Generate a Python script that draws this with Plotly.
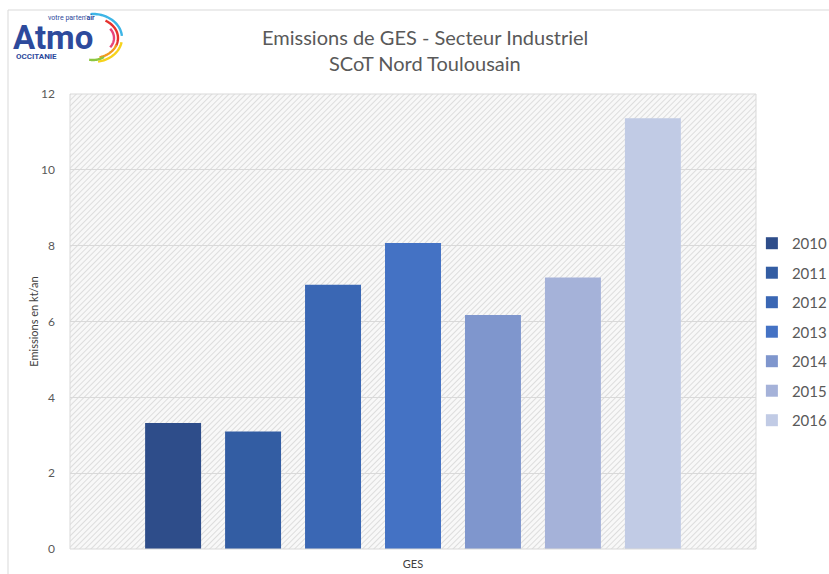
import base64
import numpy as np
import plotly.graph_objects as go

# Emissions de GES du secteur industriel (kt/an), une barre par année
categories = ["GES"]
years = ["2010", "2011", "2012", "2013", "2014", "2015", "2016"]
emissions = [3.32, 3.10, 6.97, 8.07, 6.17, 7.16, 11.36]
colors = ["#2E4D8A", "#335DA3", "#3A67B4", "#4472C4", "#7F96CD", "#A5B2D9", "#C1CBE5"]
y_ticks = [0, 2, 4, 6, 8, 10, 12]

W, H = 829, 574
M_L, M_R, M_T, M_B = 70, 73, 94, 25
PW, PH = W - M_L - M_R, H - M_T - M_B


def px(x, y):
    """Pixel position -> paper coordinates of the plot area."""
    return (x - M_L) / PW, (H - M_B - y) / PH


fig = go.Figure()
for yr, val, col in zip(years, emissions, colors):
    fig.add_trace(go.Bar(
        x=categories, y=[val], name=yr, legendgroup=yr,
        marker=dict(color=col, line=dict(width=0)),
        hoverinfo="name+y",
    ))

# diagonal hatch behind the plot area
hatch_svg = (
    f'<svg xmlns="http://www.w3.org/2000/svg" width="{PW}" height="{PH}" '
    f'viewBox="0 0 {PW} {PH}" preserveAspectRatio="none">'
    '<defs><pattern id="h" width="4" height="4" patternUnits="userSpaceOnUse" '
    'patternTransform="rotate(45)">'
    '<rect width="4" height="4" fill="#f8f8f8"/>'
    '<line x1="0" y1="0" x2="0" y2="4" stroke="#d6d6d6" stroke-width="1.6"/>'
    '</pattern></defs>'
    f'<rect width="{PW}" height="{PH}" fill="url(#h)"/></svg>'
)
hatch_uri = "data:image/svg+xml;base64," + base64.b64encode(hatch_svg.encode()).decode()

shapes = []
# outer chart frame
x0, y0 = px(8, 10)
x1, y1 = px(W + 10, H + 10)
shapes.append(dict(type="rect", xref="paper", yref="paper", x0=x0, y0=y1, x1=x1, y1=y0,
                   line=dict(color="#D9D9D9", width=1), fillcolor="rgba(0,0,0,0)", layer="below"))
# plot area frame
shapes.append(dict(type="rect", xref="paper", yref="paper", x0=0, y0=0, x1=1, y1=1,
                   line=dict(color="#D9D9D9", width=1), fillcolor="rgba(0,0,0,0)", layer="above"))

# coloured elliptic arcs of the Atmo logo: (rx, ry, start°, end°, colour)
LOGO_C = (93, 38)
arc_specs = [
    (29, 24, 95, 5, "#3DB5E6"),
    (25, 20, 60, -25, "#E5312D"),
    (21, 16, 35, -35, "#E8447A"),
    (25, 20, -20, -75, "#F29A1F"),
    (29, 24, -10, -80, "#F6D21B"),
    (22, 22, -60, -100, "#8CC63F"),
]
for rx, ry, a0, a1, col in arc_specs:
    ang = np.radians(np.linspace(a0, a1, 30))
    pts = [px(LOGO_C[0] + rx * np.cos(a), LOGO_C[1] - ry * np.sin(a)) for a in ang]
    path = "M " + " L ".join(f"{p[0]:.5f},{p[1]:.5f}" for p in pts)
    shapes.append(dict(type="path", xref="paper", yref="paper", path=path,
                       line=dict(color=col, width=2.4), layer="above"))


def note(x, y, text, size, color, family="Lato", xanchor="center"):
    ax, ay = px(x, y)
    return dict(xref="paper", yref="paper", x=ax, y=ay, showarrow=False,
                xanchor=xanchor, yanchor="middle", text=text,
                font=dict(family=family, size=size, color=color))


annotations = [
    note(425, 37, "Emissions de GES - Secteur Industriel", 20, "#595959"),
    note(425, 63, "SCoT Nord Toulousain", 20, "#595959"),
    # logo text
    note(11, 37, "<b>Atmo</b>", 33, "#2D4A9C", family="Roboto", xanchor="left"),
    note(97, 18, "votre parten'<b>air</b>", 7, "#2D4A9C", family="Roboto", xanchor="right"),
    note(14, 56, "<b>OCCITANIE</b>", 8, "#2D4A9C", family="Roboto", xanchor="left"),
]

fig.update_layout(
    width=W, height=H,
    margin=dict(l=M_L, r=M_R, t=M_T, b=M_B, autoexpand=False),
    paper_bgcolor="white",
    plot_bgcolor="rgba(0,0,0,0)",
    barmode="group", bargap=0.184, bargroupgap=0.3,
    font=dict(family="Lato", color="#595959"),
    showlegend=True,
    legend=dict(x=0.994, xanchor="left", xref="paper", y=0.477, yanchor="middle",
                font=dict(size=15, color="#595959"), tracegroupgap=7,
                itemwidth=30, bgcolor="rgba(0,0,0,0)"),
    shapes=shapes,
    annotations=annotations,
    images=[dict(source=hatch_uri, xref="paper", yref="paper", x=0, y=1,
                 sizex=1, sizey=1, xanchor="left", yanchor="top",
                 sizing="stretch", layer="below")],
)
fig.update_xaxes(showgrid=False, showline=False, ticks="", zeroline=False,
                 tickfont=dict(size=11, color="#404040"), ticklabelstandoff=7)
fig.update_yaxes(range=[0, 12], tickvals=y_ticks, showgrid=True, gridcolor="#D9D9D9",
                 gridwidth=1, zeroline=False, showline=False, ticks="",
                 tickfont=dict(size=12, color="#595959"), ticklabelstandoff=14,
                 title=dict(text="Emissions en kt/an", standoff=0,
                            font=dict(size=11, color="#404040")))

fig.write_html("out.html")
